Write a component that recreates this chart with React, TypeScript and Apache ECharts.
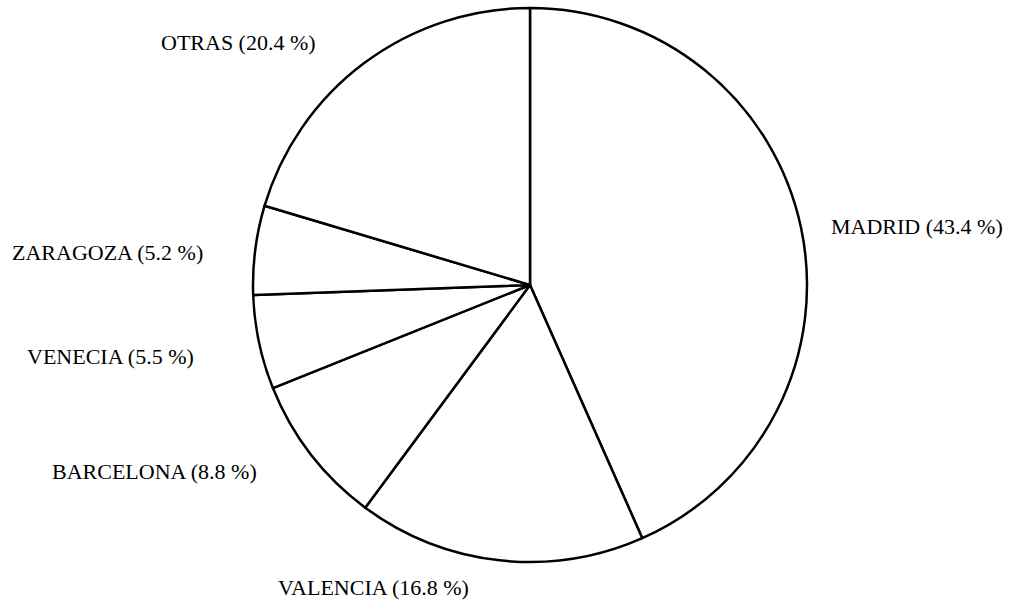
import React, { useEffect, useRef } from "react";
import * as echarts from "echarts";

const categories = ["MADRID", "VALENCIA", "BARCELONA", "VENECIA", "ZARAGOZA", "OTRAS"];
const values = [43.4, 16.8, 8.8, 5.5, 5.2, 20.4];
// label anchor positions (left x, middle y)
const labelPos: [number, number][] = [
  [831, 226],
  [278, 587],
  [52, 471],
  [27, 356],
  [12, 252],
  [161, 42],
];

export default function App() {
  const ref = useRef<HTMLDivElement>(null);
  useEffect(() => {
    if (!ref.current) return;
    const chart = echarts.init(ref.current, null, { renderer: "svg" });
    chart.setOption({
      animation: false,
      backgroundColor: "#ffffff",
      series: [
        {
          type: "pie",
          center: [530, 285],
          radius: 277,
          startAngle: 90,
          clockwise: true,
          silent: true,
          data: categories.map((n, i) => ({ name: n, value: values[i] })),
          itemStyle: { color: "#ffffff", borderColor: "#000000", borderWidth: 2.5 },
          label: {
            show: true,
            position: "outside",
            overflow: "none",
            formatter: (p: any) => `${p.name} (${p.value.toFixed(1)} %)`,
            fontFamily: "Liberation Serif",
            fontSize: 22,
            color: "#000000",
          },
          labelLine: { show: false },
          labelLayout: (params: any) => {
            const pos = labelPos[params.dataIndex];
            return { x: pos[0], y: pos[1], align: "left", verticalAlign: "middle", hideOverlap: false };
          },
          emphasis: { disabled: true },
        },
      ],
    });
    return () => chart.dispose();
  }, []);
  return (
    <div
      ref={ref}
      style={{ position: "fixed", left: 0, top: 0, width: 1013, height: 604, background: "#fff" }}
    />
  );
}
